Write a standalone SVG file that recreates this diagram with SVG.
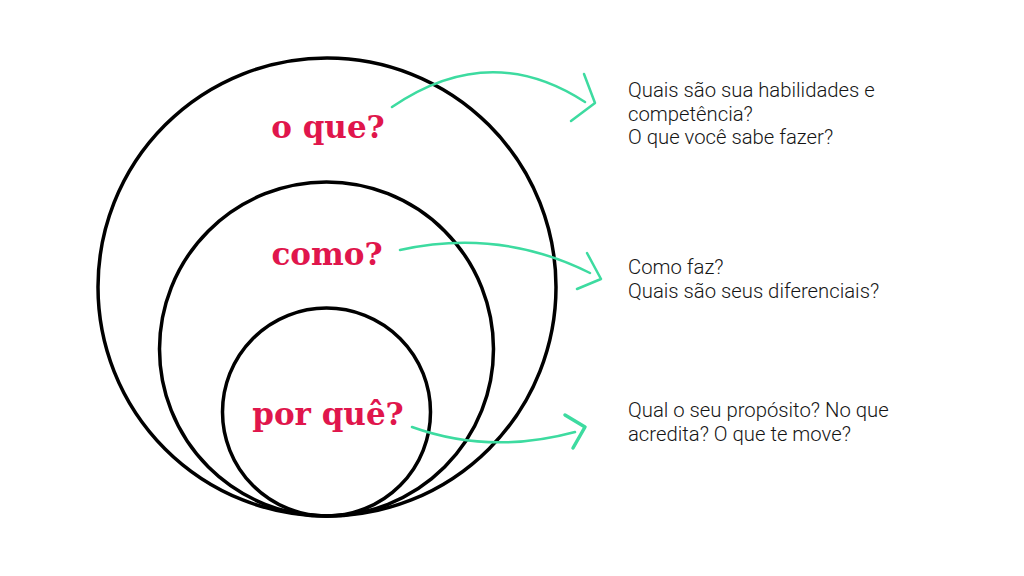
<svg xmlns="http://www.w3.org/2000/svg" width="1024" height="576" viewBox="0 0 1024 576">
<style>
.ring{fill:none;stroke:#000;stroke-width:3.5}
.lbl{font-family:"DejaVu Serif","Liberation Serif",serif;font-weight:bold;font-size:31px;fill:#e0164c;text-anchor:middle}
.desc{font-family:Roboto,"Liberation Sans",sans-serif;font-weight:300;font-size:20.3px;fill:#151515}
.arr{fill:none;stroke:#3ddba0;stroke-width:2.5;stroke-linecap:round;stroke-linejoin:round}
</style>
<rect width="1024" height="576" fill="#fff"/>
<g id="outer-circle"><circle class="ring" cx="327" cy="287" r="229"/></g>
<g id="middle-circle"><circle class="ring" cx="326.5" cy="349" r="167"/></g>
<g id="inner-circle"><circle class="ring" cx="326.5" cy="412" r="104"/></g>
<g id="node-oque"><text class="lbl" x="328" y="138">o que?</text></g>
<g id="node-como"><text class="lbl" x="327" y="265">como?</text></g>
<g id="node-porque"><text class="lbl" x="328" y="425">por quê?</text></g>
<g id="connectors">
<path class="arr" d="M392 107 Q 490 40 585 102"/>
<path class="arr" d="M584 74 L595 103 L571 121"/>
<path class="arr" d="M400 250 Q 500 228 590 273"/>
<path class="arr" d="M587 253 L601 279 L577 289"/>
<path class="arr" d="M412 427 Q 490 455 575 432"/>
<path class="arr" d="M565 415 L585 427 L573 448" style="stroke-width:3.5"/>
</g>
<g id="desc-oque"><text class="desc" x="628" y="97">Quais são sua habilidades e</text><text class="desc" x="628" y="120.5">competência?</text><text class="desc" x="628" y="144">O que você sabe fazer?</text></g>
<g id="desc-como"><text class="desc" x="628" y="274">Como faz?</text><text class="desc" x="628" y="298">Quais são seus diferenciais?</text></g>
<g id="desc-porque"><text class="desc" x="628" y="417">Qual o seu propósito? No que</text><text class="desc" x="628" y="441">acredita? O que te move?</text></g>
</svg>
